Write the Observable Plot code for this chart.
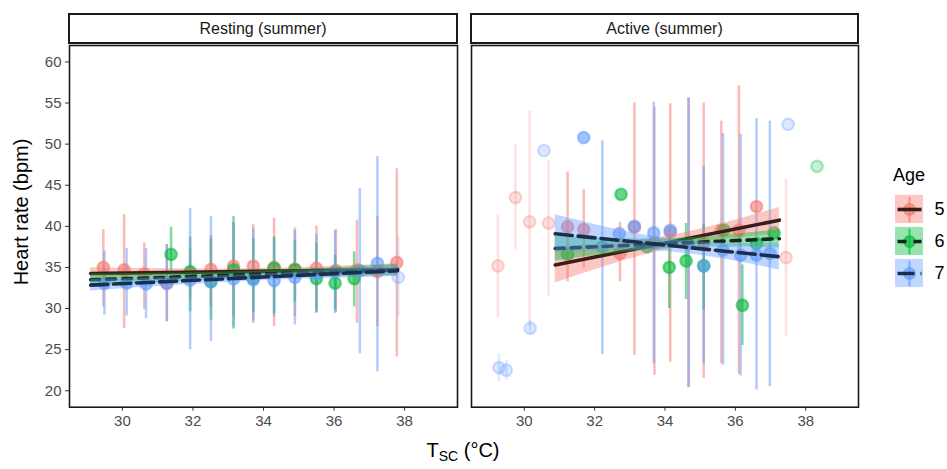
<!DOCTYPE html>
<html><head><meta charset="utf-8">
<script src="https://cdn.jsdelivr.net/npm/d3@7"></script>
<script src="https://cdn.jsdelivr.net/npm/@observablehq/plot@0.6"></script>
<style>
body{margin:0;background:#fff;font-family:"Liberation Sans",Arial,sans-serif;}
#wrap{position:relative;width:947px;height:469px;overflow:hidden;background:#fff}
#wrap svg{position:absolute;left:0;top:0}
.strip{position:absolute;top:13px;height:31px;border:2px solid #1a1a1a;box-sizing:border-box;display:flex;align-items:center;justify-content:center;font-size:16px;color:#1a1a1a;background:#fff}
.ytitle{position:absolute;left:21px;top:212px;transform:translate(-50%,-50%) rotate(-90deg);font-size:20px;color:#000;white-space:nowrap}
.xtitle{position:absolute;left:463px;top:451px;transform:translate(-50%,-50%);font-size:20px;color:#000;white-space:nowrap}
.xtitle sub{font-size:14px;vertical-align:-4px}
.ltitle{position:absolute;left:893px;top:165px;font-size:18px;color:#000}
</style></head>
<body><div id="wrap"></div>
<script>
// ---------- data ----------
const ages = ["5", "6", "7"];
const ageColors = ["#F8766D", "#00BA38", "#619CFF"];
const fitColors = ["#3b1c1c", "#16261d", "#1b2e4c"];
const fitDashes = ["none", "9,7", "17,6"];
const panelTitles = ["Resting (summer)", "Active (summer)"];
const xTicks = [30, 32, 34, 36, 38];
const yTicks = [20, 25, 30, 35, 40, 45, 50, 55, 60];

// [Tsc, heart rate, lower, upper, n]  (n = 1 : single observation, drawn pale)
const restingAge5 = [
  [29.46, 35.0, 30.2, 39.6, 3], [30.05, 34.7, 27.6, 41.45, 3], [30.62, 34.2, 29.9, 38.0, 3],
  [31.26, 33.1, 28.4, 37.8, 3], [31.92, 34.3, 31.0, 37.2, 3], [32.51, 34.75, 30.2, 38.9, 3],
  [33.15, 35.15, 29.0, 40.5, 3], [33.71, 35.15, 28.5, 40.2, 3], [34.3, 35.0, 27.8, 41.0, 3],
  [34.89, 34.8, 29.0, 39.8, 3], [35.5, 34.9, 29.4, 40.05, 3], [36.05, 34.6, 29.5, 39.6, 3],
  [36.65, 34.7, 28.2, 40.75, 3], [37.23, 34.5, 27.8, 41.15, 3], [37.78, 35.6, 24.1, 47.0, 3]
];
const restingAge6 = [
  [31.38, 36.6, 34.3, 39.9, 3], [31.92, 34.5, 29.6, 38.7, 3], [32.51, 33.3, 28.6, 38.5, 3],
  [33.15, 34.7, 27.5, 41.2, 3], [33.71, 33.65, 29.5, 38.5, 3], [34.3, 34.9, 29.4, 38.7, 3],
  [34.89, 34.7, 30.8, 38.3, 3], [35.5, 33.65, 29.6, 37.9, 3], [36.03, 33.1, 29.8, 36.5, 3],
  [36.57, 33.65, 30.2, 36.9, 3]
];
const restingAge7 = [
  [29.49, 33.05, 29.2, 37.0, 3], [30.12, 33.1, 29.1, 37.3, 3], [30.67, 33.0, 28.75, 37.3, 3],
  [31.26, 33.05, 28.4, 37.8, 3], [31.92, 33.45, 25.0, 42.2, 3], [32.51, 33.25, 26.0, 41.2, 3],
  [33.15, 33.6, 27.8, 40.35, 3], [33.71, 33.5, 28.2, 39.7, 3], [34.3, 33.4, 29.0, 38.5, 3],
  [34.89, 33.8, 28.0, 39.5, 3], [35.5, 34.2, 29.5, 39.0, 3], [36.03, 34.5, 29.4, 39.5, 3],
  [36.73, 34.6, 24.5, 44.6, 3], [37.23, 35.5, 22.3, 48.5, 3], [37.82, 33.8, 29.0, 38.7, 1]
];
const activeAge5 = [
  [29.25, 35.2, 28.9, 41.45, 1], [29.75, 43.5, 37.2, 49.9, 1], [30.15, 40.55, 27.8, 54.0, 1],
  [30.69, 40.4, 31.4, 48.0, 1], [31.23, 39.95, 33.25, 46.6, 3], [31.69, 39.6, 34.9, 44.5, 3],
  [32.72, 36.7, 33.25, 40.5, 3], [33.13, 39.9, 24.3, 55.0, 3], [33.7, 38.0, 21.9, 54.5, 3],
  [34.15, 39.3, 23.5, 54.9, 3], [34.67, 37.9, 20.4, 55.6, 3], [35.1, 38.0, 21.5, 55.0, 3],
  [35.6, 39.55, 23.3, 52.8, 3], [36.1, 39.5, 22.0, 57.1, 3], [36.6, 42.4, null, null, 3],
  [37.44, 36.2, 26.6, 45.7, 1]
];
const activeAge6 = [
  [31.23, 36.6, null, null, 2], [32.75, 43.9, null, null, 3], [33.49, 37.5, null, null, 3],
  [34.12, 35.0, 30.0, 39.7, 3], [34.6, 35.8, 31.1, 40.35, 3], [35.1, 35.2, 29.8, 40.3, 3],
  [35.68, 39.55, null, null, 3], [36.2, 30.4, 25.5, 35.3, 3], [36.6, 37.9, null, null, 3],
  [37.1, 39.2, null, null, 3], [38.32, 47.3, null, null, 1]
];
const activeAge7 = [
  [29.28, 22.8, 21.1, 24.5, 1], [29.49, 22.5, 21.3, 23.7, 1], [30.17, 27.6, 26.9, 28.5, 1],
  [30.56, 49.2, null, null, 1], [31.69, 50.8, null, null, 3], [32.22, 37.5, 24.4, 50.4, 3],
  [32.7, 39.1, null, null, 3], [33.13, 40.0, null, null, 3], [33.68, 39.2, 23.3, 55.1, 3],
  [34.15, 39.5, null, null, 3], [34.67, 37.9, 20.4, 55.6, 3], [35.1, 35.2, 23.3, 47.3, 3],
  [35.65, 37.1, 23.1, 51.3, 3], [36.15, 36.5, 21.8, 51.2, 3], [36.6, 36.5, 20.1, 53.1, 3],
  [36.98, 36.7, 20.5, 52.8, 3], [37.5, 52.4, null, null, 1]
];

// fitted lines: [Tsc, fit] ; ribbons: [Tsc, lower, upper]
const restingFit5 = [[29.1, 34.27], [37.8, 34.75]];
const restingFit6 = [[29.1, 33.5], [37.8, 34.7]];
const restingFit7 = [[29.1, 32.85], [37.8, 34.6]];
const restingBand5 = [[29.1, 33.6, 34.95], [33.5, 34.05, 34.85], [37.8, 34.05, 35.45]];
const restingBand6 = [[29.1, 32.8, 34.2], [33.5, 33.6, 34.5], [37.8, 34.0, 35.4]];
const restingBand7 = [[29.1, 32.15, 33.55], [33.5, 33.3, 34.1], [37.8, 33.9, 35.3]];
const activeFit5 = [[30.88, 35.3], [37.25, 40.75]];
const activeFit6 = [[30.88, 37.3], [37.25, 38.5]];
const activeFit7 = [[30.88, 39.1], [37.25, 36.3]];
const activeBand5 = [[30.88, 33.1, 37.5], [34.1, 37.25, 38.85], [37.25, 39.1, 42.3]];
const activeBand6 = [[30.88, 35.8, 38.8], [34.1, 37.3, 38.5], [37.25, 37.4, 39.6]];
const activeBand7 = [[30.88, 36.8, 41.4], [34.1, 36.9, 38.5], [37.25, 34.7, 37.9]];

// ---------- build ----------
const toPts = (arr, age) => arr.map(([t, v, lo, hi, n]) => ({t, v, lo, hi, n, age}));
const toLine = (arr) => arr.map(([t, v]) => ({t, v}));
const toBand = (arr) => arr.map(([t, lo, hi]) => ({t, lo, hi}));

const panels = [
  {pts: [toPts(restingAge5, "5"), toPts(restingAge6, "6"), toPts(restingAge7, "7")],
   fits: [restingFit5, restingFit6, restingFit7], bands: [restingBand5, restingBand6, restingBand7],
   left: 69, right: 457, yAxis: true},
  {pts: [toPts(activeAge5, "5"), toPts(activeAge6, "6"), toPts(activeAge7, "7")],
   fits: [activeFit5, activeFit6, activeFit7], bands: [activeBand5, activeBand6, activeBand7],
   left: 471, right: 858, yAxis: false}
];

const W = 947, H = 469;
const FONT = '"Liberation Sans", Arial, sans-serif';
const wrap = document.getElementById("wrap");

panels.forEach((p, pi) => {
  const all = p.pts.flat();
  const bars = all.filter(d => d.lo != null);
  const marks = [
    Plot.ruleX(bars.filter(d => d.n > 1), {x: "t", y1: "lo", y2: "hi", stroke: "age", strokeWidth: 2.5, strokeOpacity: 0.5}),
    Plot.ruleX(bars.filter(d => d.n === 1), {x: "t", y1: "lo", y2: "hi", stroke: "age", strokeWidth: 2.5, strokeOpacity: 0.22}),
    Plot.dot(all.filter(d => d.n > 1), {x: "t", y: "v", r: 5.8, fill: "age", stroke: "age", fillOpacity: 0.6, strokeOpacity: 0.55, strokeWidth: 2.2}),
    Plot.dot(all.filter(d => d.n === 1), {x: "t", y: "v", r: 5.8, fill: "age", stroke: "age", fillOpacity: 0.22, strokeOpacity: 0.3, strokeWidth: 2.2})
  ];
  ages.forEach((a, i) => {
    marks.push(Plot.areaY(toBand(p.bands[i]), {x: "t", y1: "lo", y2: "hi", fill: ageColors[i], fillOpacity: 0.42, curve: "natural"}));
    marks.push(Plot.line(toLine(p.fits[i]), {x: "t", y: "v", stroke: fitColors[i], strokeWidth: 3.6, strokeDasharray: fitDashes[i] === "none" ? null : fitDashes[i]}));
  });
  marks.push(Plot.frame({stroke: "#1a1a1a", strokeWidth: 1.6}));
  marks.push(Plot.axisX({ticks: xTicks, tickSize: 4, tickPadding: 4, stroke: "#333", fill: "#4d4d4d", label: null}));
  if (p.yAxis) marks.push(Plot.axisY({ticks: yTicks, tickSize: 4, tickPadding: 4, stroke: "#333", fill: "#4d4d4d", label: null}));

  const svg = Plot.plot({
    width: W, height: H,
    marginLeft: p.left, marginRight: W - p.right, marginTop: 45, marginBottom: H - 406.7,
    x: {domain: [28.5, 39.5]},
    y: {domain: [18, 62], axis: p.yAxis ? undefined : null},
    color: {domain: ages, range: ageColors},
    style: {background: "transparent", fontFamily: FONT, fontSize: "15px", overflow: "visible"},
    marks
  });
  wrap.appendChild(svg);

  const s = document.createElement("div");
  s.className = "strip";
  s.style.left = (p.left - 1) + "px";
  s.style.width = (p.right - p.left + 2) + "px";
  s.textContent = panelTitles[pi];
  wrap.appendChild(s);
});

// axis titles
const yt = document.createElement("div"); yt.className = "ytitle"; yt.textContent = "Heart rate (bpm)"; wrap.appendChild(yt);
const xt = document.createElement("div"); xt.className = "xtitle"; xt.innerHTML = "T<sub>SC</sub> (°C)"; wrap.appendChild(xt);
const lt = document.createElement("div"); lt.className = "ltitle"; lt.textContent = "Age"; wrap.appendChild(lt);

// legend (drawn with Plot)
const legendRows = ages.map((a, i) => ({a, i, color: ageColors[i], line: fitColors[i], dash: fitDashes[i]}));
const legend = Plot.plot({
  width: 60, height: 96, margin: 0,
  x: {domain: [0, 60], axis: null},
  y: {domain: [0, 3], axis: null},
  style: {background: "transparent", overflow: "visible"},
  marks: [
    Plot.rect(legendRows, {x1: 2, x2: 30, y1: d => 3 - d.i - 0.06, y2: d => 3 - d.i - 0.94, fill: d => d.color, fillOpacity: 0.4}),
    Plot.link(legendRows, {x1: 16, x2: 16, y1: d => 3 - d.i - 0.1, y2: d => 3 - d.i - 0.9, stroke: d => d.color, strokeWidth: 2.5, strokeOpacity: 0.6}),
    Plot.dot(legendRows, {x: 16, y: d => 2.5 - d.i, r: 5.5, fill: d => d.color, stroke: d => d.color, fillOpacity: 0.6, strokeOpacity: 0.6, strokeWidth: 2}),
    ...legendRows.map(d => Plot.link([d], {x1: 4, x2: 28, y1: 2.5 - d.i, y2: 2.5 - d.i, stroke: d.line, strokeWidth: 3.6, strokeDasharray: d.dash === "none" ? null : d.dash})),
    Plot.text(legendRows, {x: 41, y: d => 2.5 - d.i, text: "a", fontSize: 18, fill: "#000", textAnchor: "start", fontFamily: FONT})
  ]
});
legend.style.left = "893px";
legend.style.top = "193px";
wrap.appendChild(legend);
</script>
</body></html>
